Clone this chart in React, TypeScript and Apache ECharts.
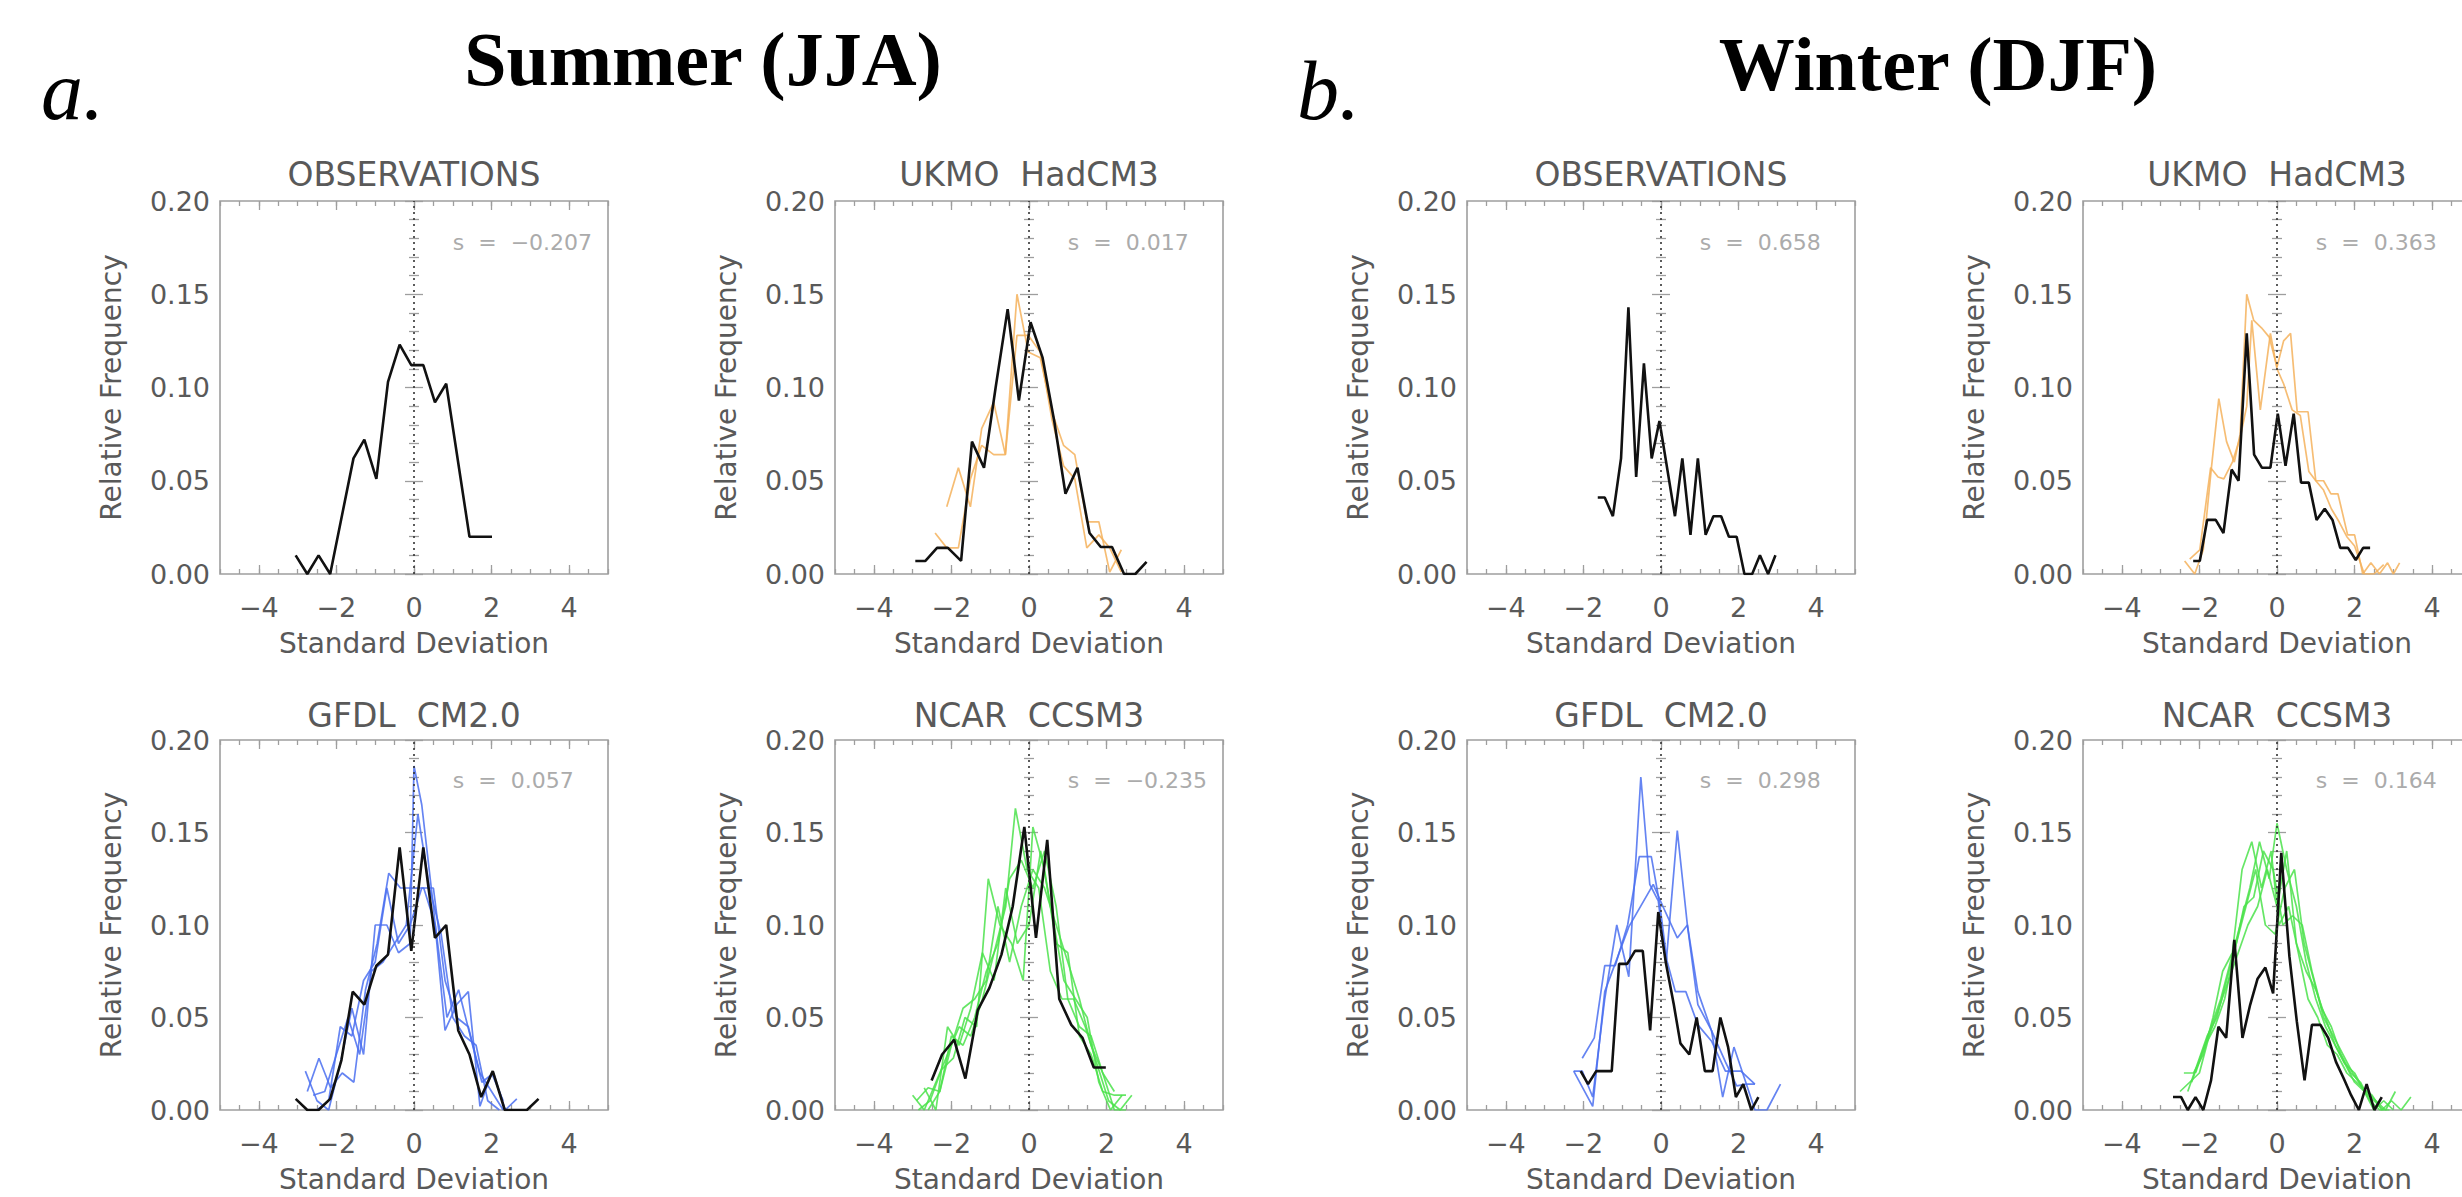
import React, { useEffect, useRef } from 'react';
import * as echarts from 'echarts';

// ---------- data ----------
const X_MAJOR_TICKS = [-4, -2, 0, 2, 4];
const PANEL_TITLES = ['OBSERVATIONS', 'UKMO  HadCM3', 'GFDL  CM2.0', 'NCAR  CCSM3'];
const SEASON_HEADINGS = ['Summer (JJA)', 'Winter (DJF)'];
const SEASON_LETTERS = ['a.', 'b.'];
const SKEW_JJA = ['s  =  −0.207', 's  =  0.017', 's  =  0.057', 's  =  −0.235'];
const SKEW_DJF = ['s  =  0.658', 's  =  0.363', 's  =  0.298', 's  =  0.164'];
const SKEW_POS = [1.0, 0.178];

// Summer (JJA)
const jjaObs = [[-3.05,0.010],[-2.75,0.0],[-2.46,0.010],[-2.16,0.0],[-1.56,0.062],[-1.28,0.072],[-0.97,0.051],[-0.67,0.103],[-0.37,0.123],[-0.07,0.112],[0.24,0.112],[0.54,0.092],[0.83,0.102],[1.43,0.020],[2.01,0.020]];

const jjaUkmoBlack = [[-2.93,0.007],[-2.67,0.007],[-2.37,0.014],[-2.09,0.014],[-1.75,0.007],[-1.47,0.071],[-1.16,0.057],[-0.86,0.100],[-0.55,0.142],[-0.26,0.093],[0.04,0.135],[0.35,0.116],[0.65,0.082],[0.94,0.043],[1.25,0.057],[1.56,0.022],[1.85,0.0145],[2.14,0.0145],[2.45,0],[2.74,0],[3.03,0.0065]];
const jjaUkmoMembers = [
  [[-2.12,0.036],[-1.82,0.057],[-1.51,0.036],[-1.22,0.078],[-0.91,0.092],[-0.61,0.064],[-0.31,0.150],[-0.02,0.119],[0.29,0.116],[0.59,0.087],[0.89,0.069],[1.18,0.064],[1.49,0.028],[1.8,0.028],[2.08,0.001],[2.38,0.013]],
  [[-2.42,0.022],[-2.12,0.014],[-1.82,0.014],[-1.51,0.051],[-1.22,0.069],[-0.91,0.064],[-0.61,0.064],[-0.31,0.128],[-0.02,0.128],[0.29,0.119],[0.59,0.083],[0.89,0.058],[1.18,0.051],[1.49,0.014],[1.8,0.021],[2.08,0.014],[2.38,0.001]],
];

const jjaGfdlBlack = [[-3.05,0.006],[-2.75,0],[-2.46,0],[-2.16,0.006],[-1.87,0.027],[-1.58,0.064],[-1.28,0.057],[-0.97,0.078],[-0.67,0.084],[-0.37,0.142],[-0.07,0.086],[0.24,0.142],[0.54,0.093],[0.83,0.100],[1.14,0.043],[1.43,0.030],[1.73,0.007],[2.03,0.021],[2.34,0],[2.63,0],[2.91,0],[3.21,0.006]];
const jjaGfdlMembers = [
  [[-2.8,0.021],[-2.5,0.005],[-2.2,0.0],[-1.9,0.025],[-1.6,0.055],[-1.3,0.030],[-1.0,0.100],[-0.7,0.100],[-0.4,0.085],[-0.1,0.090],[0.0,0.186],[0.2,0.165],[0.5,0.110],[0.8,0.043],[1.1,0.057],[1.4,0.064],[1.7,0.002],[2.0,0.020],[2.3,0.005]],
  [[-2.75,0.010],[-2.45,0.028],[-2.15,0.012],[-1.85,0.020],[-1.55,0.015],[-1.25,0.065],[-0.95,0.090],[-0.65,0.128],[-0.35,0.120],[-0.05,0.120],[0.25,0.120],[0.55,0.100],[0.85,0.050],[1.15,0.065],[1.45,0.040],[1.75,0.015],[2.05,0.020],[2.35,0.0],[2.65,0.006]],
  [[-2.6,0.008],[-2.3,0.010],[-2.0,0.030],[-1.7,0.050],[-1.4,0.030],[-1.1,0.075],[-0.8,0.080],[-0.5,0.090],[-0.2,0.100],[0.1,0.160],[0.4,0.120],[0.7,0.095],[1.0,0.050],[1.3,0.040],[1.6,0.035],[1.9,0.005],[2.2,0.0]],
  [[-2.5,0.0],[-2.2,0.005],[-1.9,0.045],[-1.6,0.040],[-1.3,0.070],[-1.0,0.080],[-0.7,0.120],[-0.4,0.090],[-0.1,0.100],[0.2,0.120],[0.5,0.120],[0.8,0.070],[1.1,0.050],[1.4,0.045],[1.7,0.020],[2.0,0.010],[2.3,0.0]],
];

const jjaNcarBlack = [[-2.51,0.016],[-2.24,0.030],[-1.93,0.038],[-1.64,0.017],[-1.32,0.054],[-1.02,0.066],[-0.71,0.084],[-0.42,0.110],[-0.12,0.153],[0.18,0.093],[0.47,0.146],[0.78,0.060],[1.09,0.046],[1.38,0.039],[1.67,0.023],[1.98,0.023]];
const jjaNcarMembers = [
  [[-3.0,0.008],[-2.7,0.0],[-2.4,0.015],[-2.1,0.030],[-1.8,0.045],[-1.5,0.040],[-1.2,0.060],[-0.9,0.085],[-0.6,0.110],[-0.35,0.163],[-0.05,0.130],[0.25,0.120],[0.55,0.075],[0.85,0.060],[1.15,0.060],[1.45,0.045],[1.75,0.025],[2.05,0.005],[2.35,0.0],[2.65,0.008]],
  [[-2.85,0.0],[-2.55,0.005],[-2.25,0.022],[-1.95,0.028],[-1.65,0.050],[-1.35,0.045],[-1.05,0.125],[-0.75,0.100],[-0.45,0.090],[-0.15,0.070],[0.1,0.153],[0.4,0.130],[0.7,0.090],[1.0,0.085],[1.3,0.040],[1.6,0.030],[1.9,0.010],[2.2,0.008],[2.5,0.008]],
  [[-2.7,0.012],[-2.4,0.0],[-2.1,0.045],[-1.8,0.035],[-1.5,0.055],[-1.2,0.085],[-0.9,0.070],[-0.6,0.120],[-0.3,0.090],[0.0,0.100],[0.3,0.140],[0.6,0.105],[0.9,0.070],[1.2,0.060],[1.5,0.050],[1.8,0.015],[2.1,0.0],[2.4,0.008]],
  [[-2.6,0.0],[-2.3,0.010],[-2.0,0.040],[-1.7,0.035],[-1.4,0.050],[-1.1,0.075],[-0.8,0.090],[-0.5,0.125],[-0.2,0.135],[0.1,0.120],[0.4,0.140],[0.7,0.110],[1.0,0.060],[1.3,0.045],[1.6,0.040],[1.9,0.020],[2.2,0.010]],
  [[-2.9,0.005],[-2.6,0.012],[-2.3,0.010],[-2.0,0.035],[-1.7,0.055],[-1.4,0.060],[-1.1,0.070],[-0.8,0.110],[-0.5,0.080],[-0.2,0.110],[0.1,0.130],[0.4,0.120],[0.7,0.100],[1.0,0.080],[1.3,0.060],[1.6,0.035],[1.9,0.020],[2.2,0.0],[2.5,0.0]],
];

// Winter (DJF)
const djfObs = [[-1.63,0.041],[-1.45,0.041],[-1.24,0.031],[-1.03,0.062],[-0.84,0.143],[-0.64,0.052],[-0.44,0.113],[-0.24,0.062],[-0.04,0.082],[0.36,0.031],[0.55,0.062],[0.76,0.021],[0.95,0.062],[1.15,0.021],[1.35,0.031],[1.55,0.031],[1.75,0.020],[1.95,0.020],[2.15,0.0],[2.35,0.0],[2.55,0.010],[2.76,0.0],[2.95,0.010]];

const djfUkmoBlack = [[-2.16,0.007],[-1.99,0.007],[-1.80,0.029],[-1.58,0.029],[-1.38,0.022],[-1.17,0.056],[-0.99,0.050],[-0.78,0.129],[-0.59,0.064],[-0.39,0.057],[-0.17,0.057],[0.02,0.086],[0.22,0.058],[0.43,0.086],[0.62,0.049],[0.82,0.049],[1.02,0.029],[1.23,0.035],[1.43,0.029],[1.63,0.014],[1.83,0.014],[2.03,0.0075],[2.22,0.014],[2.40,0.014]];
const djfUkmoMembers = [
  [[-2.38,0.007],[-2.12,0.0],[-1.9,0.013],[-1.69,0.057],[-1.5,0.094],[-1.3,0.071],[-1.1,0.060],[-0.95,0.075],[-0.78,0.150],[-0.6,0.136],[-0.4,0.132],[-0.2,0.127],[0.0,0.111],[0.17,0.125],[0.35,0.129],[0.52,0.087],[0.8,0.087],[1.0,0.050],[1.2,0.050],[1.39,0.043],[1.57,0.043],[1.82,0.021],[2.0,0.021],[2.21,0.0],[2.42,0.006],[2.64,0.0],[2.85,0.006],[3.0,0.0],[3.16,0.006]],
  [[-2.25,0.008],[-1.99,0.013],[-1.71,0.057],[-1.52,0.052],[-1.37,0.051],[-1.15,0.060],[-0.95,0.073],[-0.78,0.090],[-0.65,0.136],[-0.43,0.088],[-0.17,0.129],[0.0,0.110],[0.17,0.102],[0.39,0.088],[0.6,0.085],[0.82,0.055],[1.0,0.050],[1.2,0.045],[1.4,0.035],[1.6,0.028],[1.8,0.020],[2.0,0.015],[2.25,0.0],[2.5,0.0],[2.75,0.005]],
];

const djfGfdlBlack = [[-2.07,0.021],[-1.88,0.014],[-1.67,0.021],[-1.27,0.021],[-1.08,0.079],[-0.87,0.079],[-0.67,0.086],[-0.47,0.086],[-0.28,0.043],[-0.07,0.107],[0.13,0.079],[0.33,0.057],[0.5,0.036],[0.73,0.030],[0.92,0.050],[1.13,0.021],[1.33,0.021],[1.53,0.050],[1.73,0.034],[1.93,0.007],[2.12,0.014],[2.33,0.0],[2.51,0.007]];
const djfGfdlMembers = [
  [[-2.25,0.021],[-2.03,0.021],[-1.76,0.007],[-1.45,0.060],[-1.14,0.100],[-0.83,0.072],[-0.52,0.180],[-0.29,0.122],[-0.07,0.113],[0.13,0.079],[0.42,0.151],[0.68,0.100],[0.95,0.057],[1.3,0.043],[1.59,0.007],[1.88,0.034],[2.2,0.014],[2.42,0.014]],
  [[-2.03,0.028],[-1.72,0.039],[-1.45,0.078],[-1.18,0.078],[-0.86,0.100],[-0.56,0.137],[-0.25,0.137],[-0.03,0.111],[0.15,0.081],[0.37,0.064],[0.64,0.064],[0.95,0.046],[1.31,0.037],[1.66,0.021],[2.06,0.021],[2.42,0.014]],
  [[-2.25,0.021],[-1.76,0.002],[-1.45,0.064],[-0.83,0.099],[-0.2,0.122],[0.05,0.110],[0.42,0.093],[0.68,0.100],[0.95,0.064],[1.3,0.043],[1.66,0.026],[1.95,0.013],[2.2,0.014],[2.42,0.0],[2.73,0.0],[3.08,0.014]],
];

const djfNcarBlack = [[-2.68,0.007],[-2.47,0.007],[-2.3,0.0],[-2.1,0.007],[-1.9,0.0],[-1.70,0.016],[-1.51,0.045],[-1.31,0.039],[-1.1,0.092],[-0.89,0.039],[-0.69,0.057],[-0.5,0.071],[-0.3,0.077],[-0.1,0.063],[0.11,0.139],[0.32,0.083],[0.51,0.048],[0.71,0.016],[0.9,0.046],[1.12,0.046],[1.32,0.039],[1.52,0.026],[1.72,0.017],[1.91,0.008],[2.11,0.0],[2.31,0.014],[2.51,0.0],[2.7,0.007]];
const djfNcarMembers = [
  [[-2.4,0.020],[-2.15,0.020],[-1.9,0.030],[-1.65,0.050],[-1.4,0.075],[-1.15,0.085],[-0.9,0.130],[-0.65,0.145],[-0.4,0.120],[-0.15,0.140],[0.05,0.100],[0.3,0.110],[0.55,0.085],[0.8,0.060],[1.05,0.050],[1.3,0.035],[1.55,0.030],[1.8,0.020],[2.05,0.015],[2.3,0.010],[2.55,0.005],[2.8,0.0],[3.05,0.010]],
  [[-2.2,0.015],[-1.95,0.030],[-1.7,0.045],[-1.45,0.060],[-1.2,0.080],[-0.95,0.100],[-0.7,0.120],[-0.45,0.145],[-0.2,0.125],[0.0,0.155],[0.25,0.130],[0.5,0.110],[0.75,0.080],[1.0,0.060],[1.25,0.045],[1.5,0.035],[1.75,0.025],[2.0,0.020],[2.25,0.010],[2.5,0.0],[2.75,0.005],[3.0,0.0]],
  [[-2.3,0.010],[-2.05,0.025],[-1.8,0.040],[-1.55,0.050],[-1.3,0.070],[-1.05,0.090],[-0.8,0.110],[-0.55,0.130],[-0.3,0.100],[-0.05,0.095],[0.2,0.120],[0.45,0.130],[0.7,0.090],[0.95,0.070],[1.2,0.050],[1.45,0.040],[1.7,0.030],[1.95,0.020],[2.2,0.012],[2.45,0.008],[2.7,0.0],[2.95,0.005],[3.2,0.0],[3.45,0.007]],
  [[-2.1,0.020],[-1.85,0.035],[-1.6,0.045],[-1.35,0.060],[-1.1,0.085],[-0.85,0.110],[-0.6,0.115],[-0.35,0.140],[-0.1,0.130],[0.15,0.100],[0.4,0.105],[0.65,0.100],[0.9,0.075],[1.15,0.055],[1.4,0.045],[1.65,0.030],[1.9,0.020],[2.15,0.015],[2.4,0.005],[2.65,0.0],[2.9,0.0]],
  [[-2.5,0.010],[-2.25,0.015],[-2.0,0.020],[-1.75,0.040],[-1.5,0.055],[-1.25,0.070],[-1.0,0.085],[-0.75,0.100],[-0.5,0.110],[-0.25,0.130],[0.0,0.110],[0.25,0.140],[0.5,0.090],[0.75,0.075],[1.0,0.065],[1.25,0.050],[1.5,0.035],[1.75,0.025],[2.0,0.015],[2.25,0.010],[2.5,0.005],[2.75,0.0]],
];

// ---------- styling / layout ----------
const ORANGE = '#f5b15c';
const BLUE = '#4a6ff0';
const GREEN = '#4be24b';
const FONT = '"DejaVu Sans", Verdana, sans-serif';
const SERIF = '"Liberation Serif", "Times New Roman", serif';
const TEXT_GRAY = '#595959';
const AXIS_GRAY = '#9e9e9e';
const COL_LEFT = [220, 835, 1467, 2083];
const PLOT_W = 388;
const ROW_TOP = [201, 740];
const ROW_H = [373, 370];
const TITLE_Y = [174, 715];

type Panel = { season: number; idx: number; black: number[][]; members: number[][][]; color: string; skew: string };

const panels: Panel[] = [
  { season: 0, idx: 0, black: jjaObs, members: [], color: '#000', skew: SKEW_JJA[0] },
  { season: 0, idx: 1, black: jjaUkmoBlack, members: jjaUkmoMembers, color: ORANGE, skew: SKEW_JJA[1] },
  { season: 0, idx: 2, black: jjaGfdlBlack, members: jjaGfdlMembers, color: BLUE, skew: SKEW_JJA[2] },
  { season: 0, idx: 3, black: jjaNcarBlack, members: jjaNcarMembers, color: GREEN, skew: SKEW_JJA[3] },
  { season: 1, idx: 0, black: djfObs, members: [], color: '#000', skew: SKEW_DJF[0] },
  { season: 1, idx: 1, black: djfUkmoBlack, members: djfUkmoMembers, color: ORANGE, skew: SKEW_DJF[1] },
  { season: 1, idx: 2, black: djfGfdlBlack, members: djfGfdlMembers, color: BLUE, skew: SKEW_DJF[2] },
  { season: 1, idx: 3, black: djfNcarBlack, members: djfNcarMembers, color: GREEN, skew: SKEW_DJF[3] },
];

const fmtX = (v: number) => {
  const r = Math.round(v * 2) / 2;
  if (X_MAJOR_TICKS.indexOf(r) < 0 || Math.abs(r - v) > 1e-6) return '';
  return String(r).replace('-', '−');
};

function buildOption() {
  const grid: any[] = [];
  const xAxis: any[] = [];
  const yAxis: any[] = [];
  const series: any[] = [];
  const graphic: any[] = [];
  const tickLine = { color: AXIS_GRAY, width: 1.3 };

  panels.forEach((p, i) => {
    const col = p.season * 2 + (p.idx % 2);
    const row = Math.floor(p.idx / 2);
    grid.push({
      left: COL_LEFT[col], top: ROW_TOP[row], width: PLOT_W, height: ROW_H[row],
      show: true, borderColor: AXIS_GRAY, borderWidth: 1.6, backgroundColor: 'transparent',
      containLabel: false, outerBoundsMode: 'none',
    });
    const baseX = {
      gridIndex: i, type: 'value', min: -5, max: 5, interval: 0.5,
      axisLine: { show: false }, splitLine: { show: false }, axisLabel: { show: false },
    };
    xAxis.push({
      ...baseX, position: 'bottom',
      axisTick: { show: true, inside: true, length: 5, lineStyle: tickLine },
      axisLabel: { show: true, margin: 20, fontSize: 27, fontFamily: FONT, color: TEXT_GRAY, formatter: fmtX },
      name: 'Standard Deviation', nameLocation: 'middle', nameGap: 55,
      nameTextStyle: { fontSize: 28, fontFamily: FONT, color: TEXT_GRAY },
    });
    xAxis.push({ ...baseX, position: 'bottom', axisTick: { show: true, inside: true, length: 9, customValues: X_MAJOR_TICKS, lineStyle: tickLine } });
    xAxis.push({ ...baseX, position: 'top', axisTick: { show: true, inside: true, length: 5, lineStyle: tickLine } });
    xAxis.push({ ...baseX, position: 'top', axisTick: { show: true, inside: true, length: 9, customValues: X_MAJOR_TICKS, lineStyle: tickLine } });

    const baseY = {
      gridIndex: i, type: 'value', min: 0, max: 0.2, interval: 0.05,
      axisLine: { show: false }, splitLine: { show: false },
      axisTick: { show: true, inside: true, length: 9, lineStyle: tickLine },
      minorTick: { show: true, splitNumber: 5, length: 5, lineStyle: tickLine },
      minorSplitLine: { show: false },
    };
    yAxis.push({
      ...baseY, position: 'left',
      axisLabel: { show: true, margin: 10, fontSize: 27, fontFamily: FONT, color: TEXT_GRAY, formatter: (v: number) => v.toFixed(2) },
      name: 'Relative Frequency', nameLocation: 'middle', nameGap: 95,
      nameTextStyle: { fontSize: 28, fontFamily: FONT, color: TEXT_GRAY },
    });
    yAxis.push({ ...baseY, position: 'right', axisLabel: { show: false } });

    p.members.forEach((m) => {
      series.push({
        type: 'line', xAxisIndex: 4 * i, yAxisIndex: 2 * i, data: m,
        symbol: 'none', showSymbol: false, silent: true, z: 2,
        lineStyle: { color: p.color, width: 1.7, opacity: 0.85 },
      });
    });
    series.push({
      type: 'line', xAxisIndex: 4 * i, yAxisIndex: 2 * i, data: p.black,
      symbol: 'none', showSymbol: false, silent: true, z: 3,
      lineStyle: { color: '#111', width: 2.6 },
      markLine: {
        silent: true, symbol: ['none', 'none'], label: { show: false },
        lineStyle: { type: [2, 4], color: '#333', width: 1.6 },
        data: [{ xAxis: 0 }],
      },
    });

    graphic.push({
      type: 'text', x: COL_LEFT[col] + PLOT_W / 2, y: TITLE_Y[row],
      style: { text: PANEL_TITLES[p.idx], fontSize: 33, fontFamily: FONT, fill: TEXT_GRAY, align: 'center', verticalAlign: 'middle' },
    });
  });

  graphic.push({ type: 'text', x: 41, y: 90, style: { text: SEASON_LETTERS[0], fontSize: 84, fontStyle: 'italic', fontFamily: SERIF, fill: '#000', align: 'left', verticalAlign: 'middle' } });
  graphic.push({ type: 'text', x: 1297, y: 90, style: { text: SEASON_LETTERS[1], fontSize: 84, fontStyle: 'italic', fontFamily: SERIF, fill: '#000', align: 'left', verticalAlign: 'middle' } });
  graphic.push({ type: 'text', x: 703, y: 59, style: { text: SEASON_HEADINGS[0], fontSize: 76, fontWeight: 'bold', fontFamily: SERIF, fill: '#000', align: 'center', verticalAlign: 'middle' } });
  graphic.push({ type: 'text', x: 1938, y: 64, style: { text: SEASON_HEADINGS[1], fontSize: 76, fontWeight: 'bold', fontFamily: SERIF, fill: '#000', align: 'center', verticalAlign: 'middle' } });

  return {
    animation: false,
    backgroundColor: '#ffffff',
    grid, xAxis, yAxis, series, graphic,
  };
}

export default function App() {
  const ref = useRef<HTMLDivElement>(null);
  useEffect(() => {
    if (!ref.current) return;
    const chart = echarts.init(ref.current, null, { renderer: 'svg' });
    const option: any = buildOption();
    chart.setOption(option);
    const skewTexts = panels.map((p, i) => {
      const pt = chart.convertToPixel({ xAxisIndex: 4 * i, yAxisIndex: 2 * i } as any, SKEW_POS) as number[];
      return {
        type: 'text', x: pt[0], y: pt[1],
        style: { text: p.skew, fontSize: 22, fontFamily: FONT, fill: '#ababab', align: 'left', verticalAlign: 'middle' },
      };
    });
    chart.setOption({ graphic: [...option.graphic, ...skewTexts] });
    return () => chart.dispose();
  }, []);
  return <div ref={ref} style={{ position: 'fixed', left: 0, top: 0, width: 2462, height: 1197, background: '#fff' }} />;
}
